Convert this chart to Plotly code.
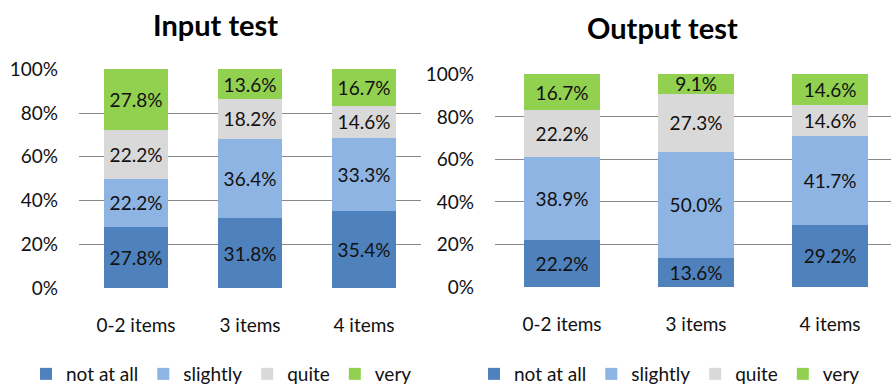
import plotly.graph_objects as go

categories = ["0-2 items", "3 items", "4 items"]
series_names = ["not at all", "slightly", "quite", "very"]
series_colors = ["#4F81BD", "#8EB4E3", "#D9D9D9", "#92D050"]

input_not_at_all = [27.8, 31.8, 35.4]
input_slightly = [22.2, 36.4, 33.3]
input_quite = [22.2, 18.2, 14.6]
input_very = [27.8, 13.6, 16.7]

output_not_at_all = [22.2, 13.6, 29.2]
output_slightly = [38.9, 50.0, 41.7]
output_quite = [22.2, 27.3, 14.6]
output_very = [16.7, 9.1, 14.6]

y_tick_values = [0, 20, 40, 60, 80, 100]
y_tick_labels = ["0%", "20%", "40%", "60%", "80%", "100%"]

FONT = "Lato"
W, H = 891, 387

fig = go.Figure()

panels = [
    ("x", "y", "legend", [input_not_at_all, input_slightly, input_quite, input_very]),
    ("x2", "y2", "legend2", [output_not_at_all, output_slightly, output_quite, output_very]),
]
for xa, ya, lg, values in panels:
    for name, color, vals in zip(series_names, series_colors, values):
        fig.add_trace(go.Bar(
            x=categories, y=vals, name=name, xaxis=xa, yaxis=ya, legend=lg,
            marker=dict(color=color, line=dict(width=0)),
            width=0.56 if xa == "x" else 0.57,
            text=[f"{v:.1f}%" for v in vals],
            textposition="inside", insidetextanchor="middle",
            textfont=dict(family=FONT, size=19, color="#111111"),
            cliponaxis=False,
        ))

axis_common = dict(showline=False, zeroline=False, ticks="",
                   tickfont=dict(family=FONT, size=19, color="#111111"))
legend_common = dict(orientation="h", xanchor="left", yanchor="top", y=(H - 355) / H,
                     font=dict(family=FONT, size=19, color="#111111"), itemwidth=30,
                     traceorder="normal", bgcolor="rgba(0,0,0,0)")
fig.update_layout(
    width=W, height=H, margin=dict(l=0, r=0, t=0, b=0, autoexpand=False),
    paper_bgcolor="white", plot_bgcolor="white",
    barmode="stack",
    uniformtext=dict(minsize=19, mode="show"),
    xaxis=dict(domain=[79 / W, 421 / W], range=[-0.5, 2.5], showgrid=False,
               ticklabelstandoff=24, automargin=False, **axis_common),
    xaxis2=dict(domain=[495 / W, 1.0], range=[-0.5, 2.455], showgrid=False,
                anchor="y2", ticklabelstandoff=24, automargin=False, **axis_common),
    yaxis=dict(domain=[(H - 288) / H, (H - 69) / H], range=[0, 100.15],
               tickvals=y_tick_values, ticktext=y_tick_labels,
               showgrid=True, gridcolor="#888888", gridwidth=1,
               ticklabelstandoff=20, automargin=False, **axis_common),
    yaxis2=dict(domain=[(H - 287) / H, (H - 74) / H], range=[0, 100.15],
                tickvals=y_tick_values, ticktext=y_tick_labels, anchor="x2",
                showgrid=True, gridcolor="#888888", gridwidth=1,
                ticklabelstandoff=20, automargin=False, **axis_common),
    legend=dict(x=26 / W, **legend_common),
    legend2=dict(x=474 / W, **legend_common),
    annotations=[
        dict(text="<b>Input test</b>", x=215 / W, y=(H - 25) / H, xref="paper", yref="paper",
             showarrow=False, xanchor="center", yanchor="middle",
             font=dict(family=FONT, size=29, color="#000000")),
        dict(text="<b>Output test</b>", x=662 / W, y=(H - 27) / H, xref="paper", yref="paper",
             showarrow=False, xanchor="center", yanchor="middle",
             font=dict(family=FONT, size=29, color="#000000")),
    ],
)

fig.write_html("out.html")
